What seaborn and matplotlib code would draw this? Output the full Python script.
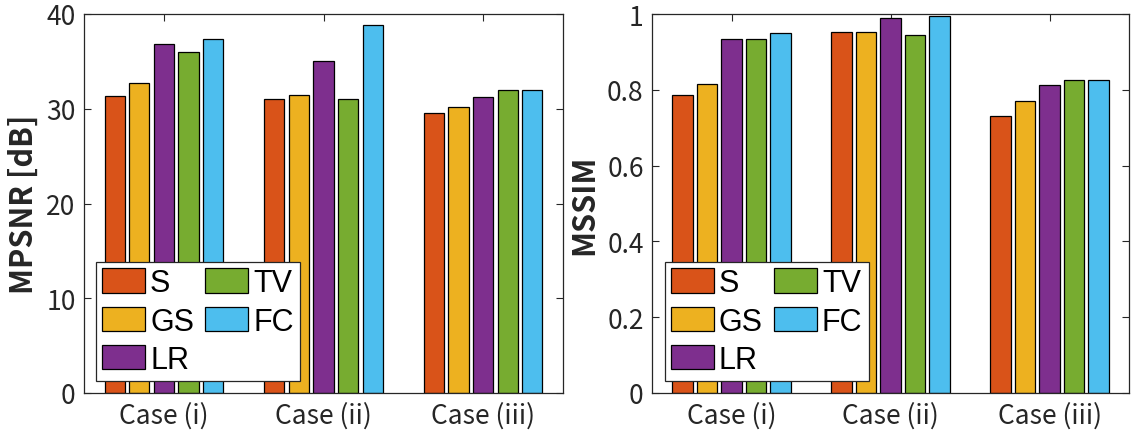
import numpy as np
import pandas as pd
import matplotlib
matplotlib.use("Agg")
import matplotlib.pyplot as plt
import seaborn as sns

cases = ["Case (i)", "Case (ii)", "Case (iii)"]
methods = ["S", "GS", "LR", "TV", "FC"]
colors = ["#D95319", "#EDB120", "#7E2F8E", "#77AC30", "#4DBEEE"]

mpsnr_S = [31.3, 31.0, 29.5]
mpsnr_GS = [32.7, 31.5, 30.2]
mpsnr_LR = [36.8, 35.0, 31.2]
mpsnr_TV = [36.0, 31.0, 32.0]
mpsnr_FC = [37.4, 38.8, 32.0]

mssim_S = [0.786, 0.953, 0.732]
mssim_GS = [0.816, 0.953, 0.770]
mssim_LR = [0.933, 0.989, 0.812]
mssim_TV = [0.933, 0.944, 0.825]
mssim_FC = [0.951, 0.995, 0.825]

mpsnr_ticks = [0, 10, 20, 30, 40]
mssim_ticks = [0, 0.2, 0.4, 0.6, 0.8, 1.0]
mssim_ticklabels = ["0", "0.2", "0.4", "0.6", "0.8", "1"]


def long_df(series):
    rows = []
    for m, vals in zip(methods, series):
        for c, v in zip(cases, vals):
            rows.append({"case": c, "method": m, "value": v})
    return pd.DataFrame(rows)


df_psnr = long_df([mpsnr_S, mpsnr_GS, mpsnr_LR, mpsnr_TV, mpsnr_FC])
df_ssim = long_df([mssim_S, mssim_GS, mssim_LR, mssim_TV, mssim_FC])

sns.set_theme(style="white")
plt.rcParams["font.family"] = ["Noto Sans CJK JP", "DejaVu Sans"]

W, H = 1131, 439
fig = plt.figure(figsize=(W / 100, H / 100), dpi=100)
axL = fig.add_axes([84 / W, 45 / H, 479 / W, 379 / H])
axR = fig.add_axes([652 / W, 45 / H, 477 / W, 379 / H])

spine_col = "#262626"


def draw(ax, df, ylim, ticks, ticklabels, ylabel, lx):
    sns.barplot(data=df, x="case", y="value", hue="method", order=cases,
                hue_order=methods, palette=colors, width=0.77, gap=0.18,
                edgecolor="black", linewidth=0.9, ax=ax, errorbar=None,
                saturation=1)
    ax.set_xlim(-0.5, 2.5)
    ax.set_ylim(*ylim)
    ax.set_yticks(ticks)
    ax.set_yticklabels(ticklabels)
    ax.set_xlabel("")
    ax.set_ylabel(ylabel, fontsize=22, fontweight="bold", labelpad=5)
    for s in ax.spines.values():
        s.set_visible(True)
        s.set_color(spine_col)
        s.set_linewidth(0.9)
    ax.tick_params(axis="both", which="both", direction="in", length=5,
                   width=0.8, colors=spine_col, labelcolor="#262626",
                   labelsize=19, top=True, right=True, bottom=True, left=True)
    ax.tick_params(axis="x", pad=6)
    ax.tick_params(axis="y", pad=6)
    leg = ax.legend(loc="lower left", bbox_to_anchor=(lx, 0.032),
                    borderaxespad=0, ncol=2, frameon=True,
                    prop={"family": "Liberation Sans", "size": 22},
                    fancybox=False, edgecolor=spine_col, framealpha=1,
                    handlelength=1.42, handleheight=0.85, handletextpad=0.15,
                    columnspacing=0.36, labelspacing=0.27, borderpad=0.2)
    leg.get_frame().set_linewidth(0.9)
    for t in leg.get_texts():
        t.set_color("black")


draw(axL, df_psnr, (0, 40), mpsnr_ticks, [str(t) for t in mpsnr_ticks],
     "MPSNR [dB]", 0.025)
draw(axR, df_ssim, (0, 1), mssim_ticks, mssim_ticklabels, "MSSIM", 0.027)

fig.savefig("out.png", dpi=100)
